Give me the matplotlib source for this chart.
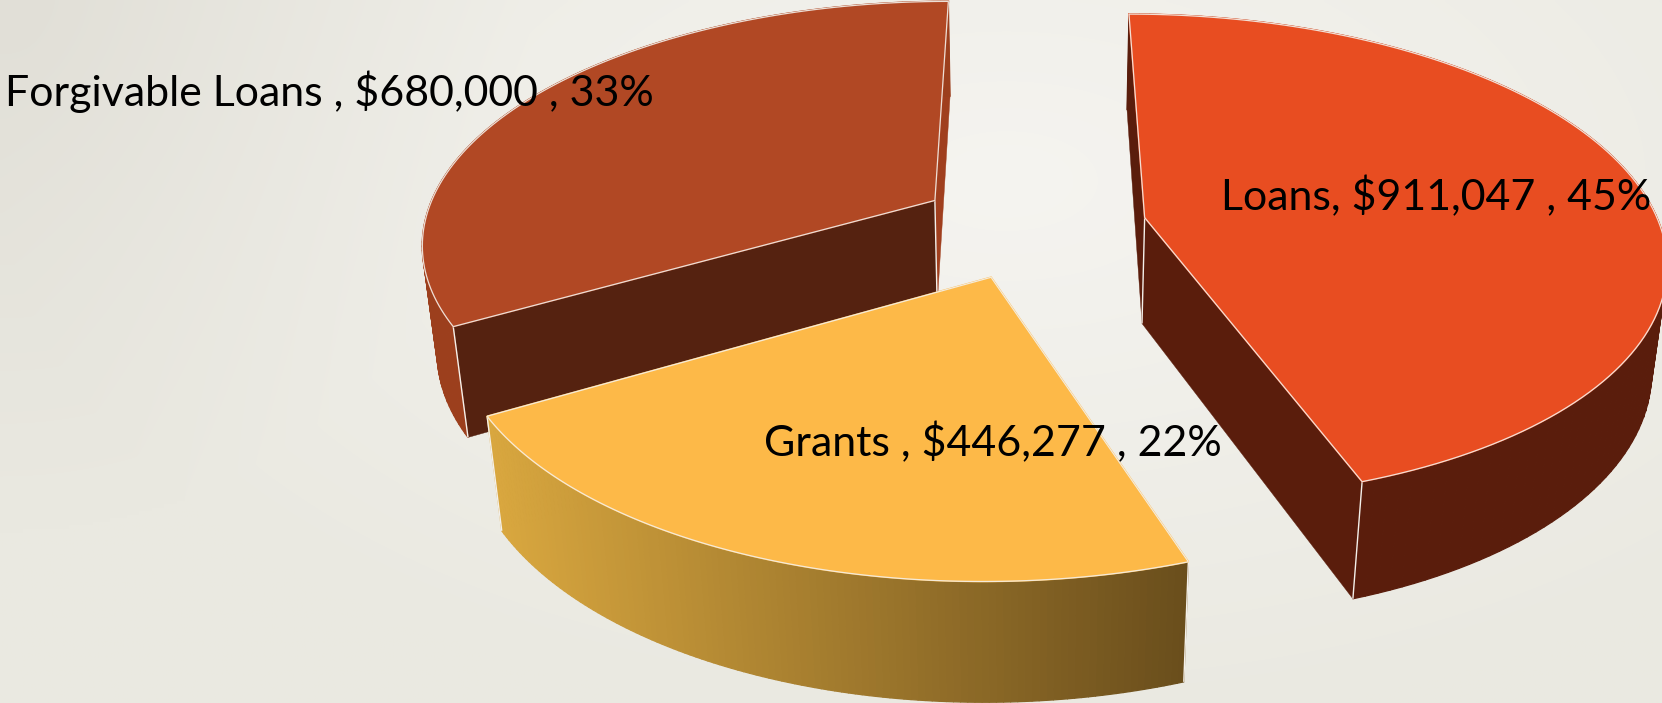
import numpy as np
import matplotlib
matplotlib.use("Agg")
import matplotlib.pyplot as plt
from matplotlib.patches import Polygon
from matplotlib.collections import PolyCollection
from matplotlib.colors import to_rgb

# ---- data ----
categories = ["Loans", "Grants", "Forgivable Loans"]
amounts = [911047, 446277, 680000]
percents = [45, 22, 33]
label_text = ["Loans, $911,047 , 45%", "Grants , $446,277 , 22%", "Forgivable Loans , $680,000 , 33%"]

# ---- style ----
top_colors = ["#E84D21", "#FDB948", "#B14824"]
wall_colors = ["#5A1D0C", None, "#9C3F1D"]
start_cut_colors = ["#5A1D0C", "#D9A73F", "#552210"]
end_cut_colors = ["#5A1D0C", "#6A4E1C", "#A03F1E"]
gradient_ends = ("#D9A73F", "#6A4E1C")
line_color = "#F4F0EA"
label_pos = [(1152, 198), (721, 430), (5, 100)]
FONT_SIZE = 30.9
x_radius = [0.99, 0.984, 0.984]
y_radius = [1.0, 0.989, 1.0]
# which vertical edges show a light line: apex, arc start, arc end
edge_lines = [(True, False, True), (False, True, True), (True, True, False)]

# ---- camera model of the pie (pixels in the shrunk 1568 wide frame) ----
VX, VY, AX, BY, DIST = 974.0, -1170.0, 3010.0, 8480.0, 6.13
DEPTH_W, DEPTH_Y, EXPLODE = 0.15, 837.0, 0.22


def project(px, py, h):
    w = py + DIST + DEPTH_W * h
    return np.column_stack([VX + AX * px / w, VY + (BY + DEPTH_Y * h) / w])


fig = plt.figure(figsize=(16.62, 7.03), dpi=100)
ax = fig.add_axes([0, 0, 1, 1])

# background: soft radial glow plus a darker top-left corner
gx, gy = np.meshgrid(np.linspace(0, 1568, 400), np.linspace(0, 663, 200))
r = np.clip(np.sqrt(((gx - 950) / 950) ** 2 + ((gy - 170) / 520) ** 2), 0, 1)
corner = np.clip(1 - np.hypot(gx, gy) / 500, 0, 1)
c0 = np.array(to_rgb("#F5F4F0"))
d1 = np.array([0x0B, 0x0B, 0x0F]) / 255
d2 = np.array([0x09, 0x0A, 0x0A]) / 255
ax.imshow(np.clip(c0 - d1 * r[..., None] - d2 * corner[..., None], 0, 1),
          extent=(0, 1568, 663, 0), aspect="auto", zorder=0, interpolation="bilinear")

shares = np.array(amounts, dtype=float) / sum(amounts)
edges = np.concatenate([[0], np.cumsum(shares)]) * 2 * np.pi
draw_order = [2, 1, 0]
z = 1
for i in draw_order:
    a0, a1 = edges[i], edges[i + 1]
    mid = (a0 + a1) / 2
    ox, oy = EXPLODE * np.sin(mid), EXPLODE * np.cos(mid)
    t = np.linspace(a0, a1, 120)
    arc_x, arc_y = ox + x_radius[i] * np.sin(t), oy + y_radius[i] * np.cos(t)
    arc_top = project(arc_x, arc_y, 0)
    arc_bot = project(arc_x, arc_y, 1)
    apex_top = project(np.array([ox]), np.array([oy]), 0)
    apex_bot = project(np.array([ox]), np.array([oy]), 1)

    # cut faces
    start = np.vstack([apex_top, arc_top[0], arc_bot[0], apex_bot])
    end = np.vstack([apex_top, arc_top[-1], arc_bot[-1], apex_bot])
    ax.add_patch(Polygon(end, closed=True, fc=end_cut_colors[i], ec=end_cut_colors[i], lw=0.3, zorder=z))
    ax.add_patch(Polygon(start, closed=True, fc=start_cut_colors[i], ec=start_cut_colors[i], lw=0.3, zorder=z))

    # outer wall as swept quads, so the silhouette includes the tangent edges
    quads = np.stack([arc_top[:-1], arc_top[1:], arc_bot[1:], arc_bot[:-1]], axis=1)
    if wall_colors[i] is not None:
        fc = [wall_colors[i]] * len(quads)
    else:
        g0, g1 = np.array(to_rgb(gradient_ends[0])), np.array(to_rgb(gradient_ends[1]))
        xm = quads[:, :, 0].mean(axis=1)
        f = ((xm - xm.min()) / (xm.max() - xm.min()))[:, None]
        fc = g0 + (g1 - g0) * f
    ax.add_collection(PolyCollection(quads, facecolors=fc, edgecolors=fc, linewidths=0.9, zorder=z))

    # light vertical edges
    show_apex, show_start, show_end = edge_lines[i]
    for show, a, b in [(show_apex, apex_top[0], apex_bot[0]),
                       (show_start, arc_top[0], arc_bot[0]),
                       (show_end, arc_top[-1], arc_bot[-1])]:
        if show:
            ax.plot([a[0], b[0]], [a[1], b[1]], color=line_color, lw=1.0, zorder=z,
                    solid_capstyle="butt")

    # top face, filled over the wall's rim, then its light outline
    ax.add_patch(Polygon(np.vstack([apex_top, arc_top]), closed=True, fc=top_colors[i],
                         ec=top_colors[i], lw=1.2, zorder=z))
    ax.add_patch(Polygon(np.vstack([apex_top, arc_top]), closed=True, fc="none",
                         ec=line_color, lw=0.9, alpha=0.9, zorder=z))
    z += 1

for text, (lx, ly) in zip(label_text, label_pos):
    ax.text(lx, ly, text, fontsize=FONT_SIZE, family="Lato", color="black",
            ha="left", va="baseline", zorder=20)

ax.set_xlim(0, 1568)
ax.set_ylim(663, 0)
ax.axis("off")
fig.savefig("out.png", dpi=100)
